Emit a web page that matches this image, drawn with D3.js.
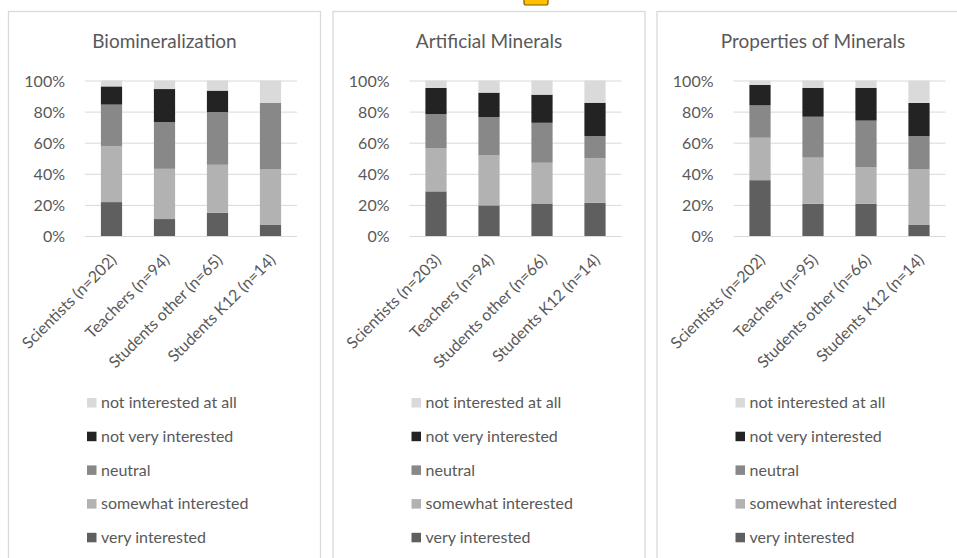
<!DOCTYPE html>
<html><head><meta charset="utf-8">
<script src="https://cdn.jsdelivr.net/npm/d3@7"></script>
<style>body{margin:0;background:#fff}svg{display:block}</style>
</head><body><svg id="c" width="957" height="558"></svg>
<script>
const panelTitles = ["Biomineralization", "Artificial Minerals", "Properties of Minerals"];
const seriesNames = ["very interested", "somewhat interested", "neutral", "not very interested", "not interested at all"];
const seriesColors = ["#5f5f5f", "#b2b2b2", "#888888", "#232323", "#dadada"];
const groupsBio = ["Scientists (n=202)", "Teachers (n=94)", "Students other (n=65)", "Students K12 (n=14)"];
const groupsArt = ["Scientists (n=203)", "Teachers (n=94)", "Students other (n=66)", "Students K12 (n=14)"];
const groupsProp = ["Scientists (n=202)", "Teachers (n=95)", "Students other (n=66)", "Students K12 (n=14)"];
// values per series (%), order of groups
const bioVery = [21.8, 10.9, 14.9, 7.1];
const bioSome = [36.1, 32.3, 30.9, 35.7];
const bioNeutral = [26.6, 30.0, 33.9, 42.9];
const bioNotVery = [11.7, 21.3, 13.8, 0];
const bioNotAll = [3.8, 5.5, 6.5, 14.3];
const artVery = [28.7, 19.7, 20.9, 21.4];
const artSome = [27.7, 32.1, 26.2, 28.6];
const artNeutral = [22.0, 24.7, 25.7, 14.3];
const artNotVery = [16.8, 15.7, 18.1, 21.4];
const artNotAll = [4.8, 7.8, 9.1, 14.3];
const propVery = [35.9, 20.7, 20.8, 7.1];
const propSome = [27.3, 29.7, 23.3, 35.7];
const propNeutral = [20.8, 26.3, 30.1, 21.4];
const propNotVery = [13.2, 18.6, 21.1, 21.4];
const propNotAll = [2.8, 4.7, 4.7, 14.3];
const yTicks = [0, 20, 40, 60, 80, 100];

const panels = [
  {title: panelTitles[0], groups: groupsBio, series: [bioVery, bioSome, bioNeutral, bioNotVery, bioNotAll]},
  {title: panelTitles[1], groups: groupsArt, series: [artVery, artSome, artNeutral, artNotVery, artNotAll]},
  {title: panelTitles[2], groups: groupsProp, series: [propVery, propSome, propNeutral, propNotVery, propNotAll]}
];
const panelLefts = [8.5, 333, 657];
const panelW = 312;
const FONT = "Lato, 'Open Sans', sans-serif";
const svg = d3.select("#c");

// small highlighted marker at top
svg.append("rect").attr("x", 524).attr("y", -4).attr("width", 24).attr("height", 9)
  .attr("rx", 1.5).attr("fill", "#ffc000").attr("stroke", "#7f5a00").attr("stroke-width", 1.2);

panels.forEach((p, i) => {
  const g = svg.append("g").attr("transform", `translate(${panelLefts[i]},0)`);
  g.append("rect").attr("x", 0).attr("y", 11.5).attr("width", panelW).attr("height", 600)
    .attr("fill", "none").attr("stroke", "#d9d9d9").attr("stroke-width", 1.3);
  g.append("text").attr("x", panelW / 2).attr("y", 47.5).attr("text-anchor", "middle")
    .attr("font-family", FONT).attr("font-size", 19).attr("fill", "#595959").text(p.title);

  const px = 76.5, pw = 212;
  const y = d3.scaleLinear().domain([0, 100]).range([236, 80.5]);
  const x = d3.scaleBand().domain(p.groups).range([px, px + pw]).paddingInner(0.6).paddingOuter(0.3);

  const yAxis = d3.axisLeft(y).tickValues(yTicks).tickSize(-pw).tickFormat(d => d + "%");
  const ya = g.append("g").attr("transform", `translate(${px},0)`).call(yAxis);
  ya.select(".domain").remove();
  ya.selectAll("line").attr("stroke", "#d9d9d9").attr("stroke-width", 1);
  ya.selectAll("text").attr("x", -20).attr("dy", "0.36em").attr("font-family", FONT)
    .attr("font-size", 16).attr("fill", "#595959");

  const rows = p.groups.map((gname, k) => {
    const r = {group: gname};
    seriesNames.forEach((s, j) => r[s] = p.series[j][k]);
    return r;
  });
  const stacked = d3.stack().keys(seriesNames)(rows);
  g.append("g").selectAll("g").data(stacked).join("g").attr("fill", (d, j) => seriesColors[j])
    .selectAll("rect").data(d => d).join("rect")
    .attr("x", d => x(d.data.group)).attr("width", x.bandwidth())
    .attr("y", d => y(d[1])).attr("height", d => Math.max(0, y(d[0]) - y(d[1])));

  const xAxis = d3.axisBottom(x).tickSize(0);
  const xa = g.append("g").attr("transform", `translate(0,236)`).call(xAxis);
  xa.select(".domain").remove();
  xa.selectAll("text").attr("text-anchor", "end").attr("font-family", FONT)
    .attr("font-size", 16).attr("fill", "#595959").attr("dy", 0).attr("y", 0)
    .attr("transform", "translate(6,25) rotate(-45)");

  const lg = g.append("g").attr("transform", `translate(${px + 2},0)`);
  const legOrder = [4, 3, 2, 1, 0];
  legOrder.forEach((j, r) => {
    const cy = 402.5 + r * 33.7;
    lg.append("rect").attr("x", 0).attr("y", cy - 4.5).attr("width", 9.5).attr("height", 9.5).attr("fill", seriesColors[j]);
    lg.append("text").attr("x", 14).attr("y", cy).attr("dy", "0.35em").attr("font-family", FONT)
      .attr("font-size", 16).attr("fill", "#595959").text(seriesNames[j]);
  });
});
</script></body></html>
